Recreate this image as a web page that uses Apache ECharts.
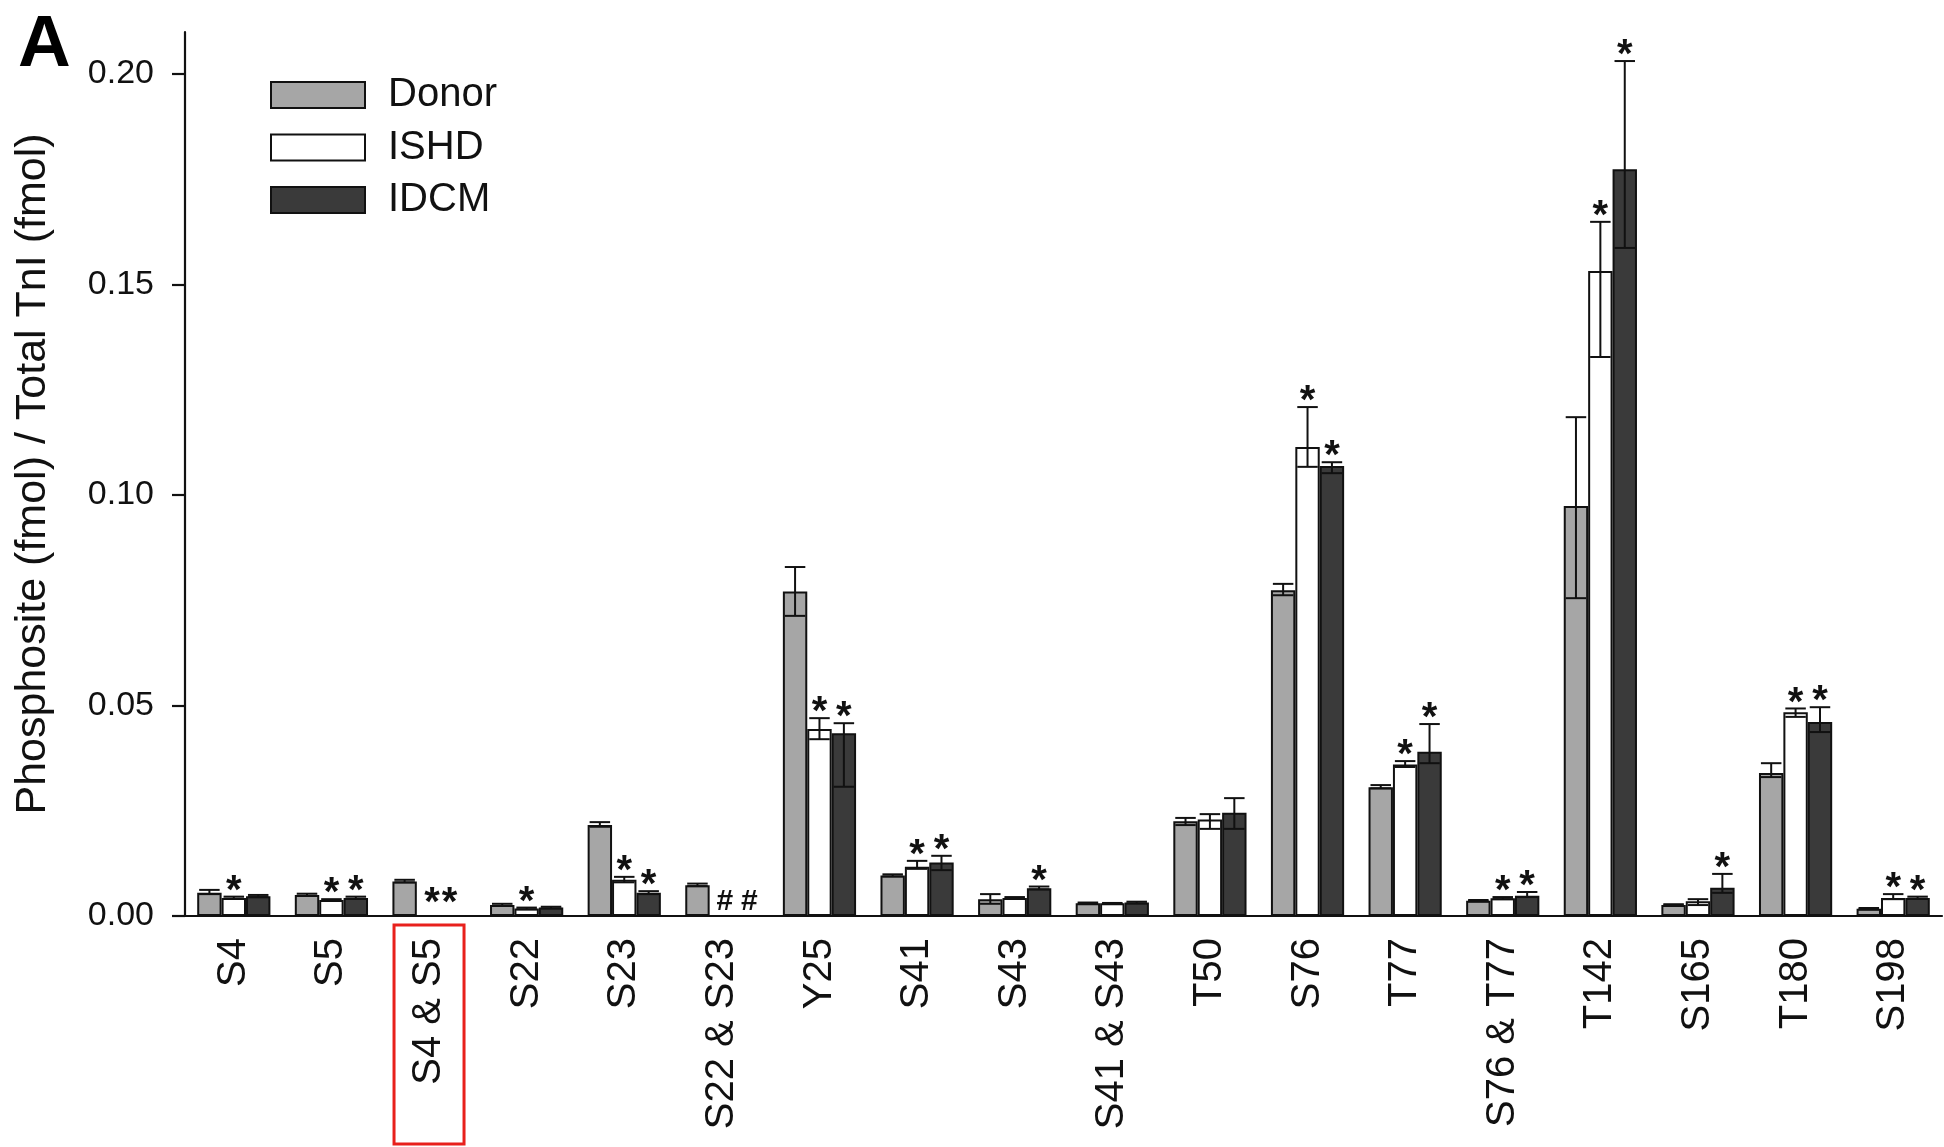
<!DOCTYPE html>
<html><head><meta charset="utf-8">
<script src="https://cdn.jsdelivr.net/npm/echarts@6/dist/echarts.min.js"></script>
<style>html,body{margin:0;padding:0;background:#fff}#c{width:1944px;height:1147px}</style>
</head><body><div id="c"></div>
<script>
const categories = ['S4','S5','S4 & S5','S22','S23','S22 & S23','Y25','S41','S43','S41 & S43','T50','S76','T77','S76 & T77','T142','S165','T180','S198'];
const seriesNames = ['Donor','ISHD','IDCM'];
const yTicks = [0, 0.05, 0.10, 0.15, 0.20];

const donor     = [0.0055,0.0050,0.0082,0.0026,0.0216,0.0073,0.0771,0.0096,0.0040,0.0030,0.0225,0.0774,0.0306,0.0036,0.0974,0.0026,0.0340,0.0017];
const ishd      = [0.0043,0.0038,0,     0.0018,0.0086,0,     0.0444,0.0117,0.0043,0.0030,0.0229,0.1114,0.0360,0.0042,0.1532,0.0035,0.0484,0.0043];
const idcm      = [0.0047,0.0043,0,     0.0020,0.0055,0,     0.0434,0.0127,0.0066,0.0032,0.0245,0.1069,0.0390,0.0048,0.1774,0.0067,0.0461,0.0043];

const donorErrUp   = [0.0007,0.0003,0.0004,0.0003,0.0007,0.0004,0.0058,0.0003,0.0012,0.0002,0.0008,0.0015,0.0005,0.0002,0.0211,0.0002,0.0023,0.0002];
const donorErrDown = [0.0003,0.0002,0.0002,0.0002,0.0004,0.0002,0.0058,0.0002,0.0011,0.0001,0.0009,0.0012,0.0003,0.0001,0.0219,0.0001,0.0010,0.0001];
const ishdErrUp    = [0.0003,0.0002,0,     0.0002,0.0007,0,     0.0026,0.0014,0.0002,0.0001,0.0013,0.0095,0.0008,0.0003,0.0117,0.0005,0.0009,0.0009];
const ishdErrDown  = [0.0002,0.0002,0,     0.0002,0.0006,0,     0.0024,0.0005,0.0002,0.0001,0.0022,0.0047,0.0006,0.0002,0.0204,0.0009,0.0011,0.0003];
const idcmErrUp    = [0.0003,0.0003,0,     0.0002,0.0004,0,     0.0024,0.0016,0.0004,0.0002,0.0035,0.0009,0.0066,0.0009,0.0257,0.0033,0.0035,0.0003];
const idcmErrDown  = [0.0002,0.0002,0,     0.0002,0.0003,0,     0.0127,0.0018,0.0003,0.0002,0.0038,0.0017,0.0027,0.0003,0.0187,0.0012,0.0024,0.0002];

const donorNotes = ['','','','','','','','','','','','','','','','','',''];
const ishdNotes  = ['*','*','*','*','*','#','*','*','','','','*','*','*','*','','*','*'];
const idcmNotes  = ['','*','*','','*','#','*','*','*','','','*','*','*','*','*','*','*'];

const highlightCategory = 'S4 & S5';

const FONT = '"Liberation Sans", Arial, Helvetica, sans-serif';
const INK = '#111';

function makeErrRender(k, notes) {
  return function (params, api) {
    const i = api.value(0), v = api.value(1), up = api.value(2), dn = api.value(3);
    const band = api.size([1, 0])[0];
    const barW = band * 0.75 / 3;
    const cx = api.coord([i, 0])[0] + (k - 1) * barW;
    const yTop = api.coord([i, v + up])[1];
    const yBot = api.coord([i, v - dn])[1];
    const capHalf = barW * 0.42;
    const children = [];
    if (up > 0 || dn > 0) {
      const st = { stroke: INK, lineWidth: 2 };
      children.push({ type: 'line', shape: { x1: cx, y1: yTop, x2: cx, y2: yBot }, style: st });
      children.push({ type: 'line', shape: { x1: cx - capHalf, y1: yTop, x2: cx + capHalf, y2: yTop }, style: st });
      children.push({ type: 'line', shape: { x1: cx - capHalf, y1: yBot, x2: cx + capHalf, y2: yBot }, style: st });
    }
    const note = notes[params.dataIndex];
    if (note) {
      const isHash = note === '#';
      const onZero = v === 0;
      // pairs of stars on empty bars sit close together, as in the figure
      const shift = isHash ? 3 : (onZero ? (k === 1 ? 3 : -4) : 0);
      children.push({
        type: 'text', x: cx + shift, y: isHash ? yTop - 14 : (onZero ? yTop - 12 : yTop - 5),
        style: { text: note, fill: INK, fontFamily: FONT, fontSize: isHash ? 30 : 40,
                 fontWeight: 'bold', align: 'center', verticalAlign: 'middle' }
      });
    }
    return { type: 'group', children };
  };
}

function errData(vals, up, dn) {
  return categories.map((c, i) => [i, vals[i], up[i], dn[i]]);
}

const chart = echarts.init(document.getElementById('c'), null, { renderer: 'canvas' });
const barStyle = (color) => ({ color, borderColor: INK, borderWidth: 2 });

const titleGraphic = { type: 'text', left: 18, top: 9, style: { text: 'A', fontFamily: FONT, fontWeight: 'bold', fontSize: 73, fill: '#000' } };

chart.setOption({
  animation: false,
  backgroundColor: '#fff',
  textStyle: { fontFamily: FONT },
  grid: { left: 185, right: 2, top: 32, bottom: 231, containLabel: false },
  legend: {
    data: seriesNames, orient: 'vertical', left: 270, top: 75,
    itemWidth: 94, itemHeight: 26, itemGap: 12.5, padding: 0,
    icon: 'rect',
    textStyle: { fontSize: 40, color: INK, fontFamily: FONT, lineHeight: 40, padding: [0, 0, 0, 18] }
  },
  xAxis: {
    type: 'category', data: categories,
    axisLine: { lineStyle: { color: INK, width: 2.2 } },
    axisTick: { show: false },
    axisLabel: { interval: 0, rotate: 90, fontSize: 40, color: INK, margin: 22, fontFamily: FONT },
    splitLine: { show: false }
  },
  yAxis: {
    type: 'value', min: 0, max: 0.21, interval: 0.05,
    name: 'Phosphosite (fmol) / Total TnI (fmol)',
    nameLocation: 'middle', nameGap: 130,
    nameTextStyle: { fontSize: 43, color: INK, fontFamily: FONT },
    axisLine: { show: true, lineStyle: { color: INK, width: 2.2 } },
    axisTick: { show: true, length: 13, lineStyle: { color: INK, width: 2.2 }, customValues: yTicks },
    axisLabel: { fontSize: 34, color: INK, margin: 31, fontFamily: FONT, customValues: yTicks,
                 formatter: (v) => v.toFixed(2) },
    splitLine: { show: false }
  },
  series: [
    { name: 'Donor', type: 'bar', data: donor, itemStyle: barStyle('#a6a6a6'), barGap: '0%', barCategoryGap: '25%' },
    { name: 'ISHD', type: 'bar', data: ishd, itemStyle: barStyle('#ffffff'), barGap: '0%', barCategoryGap: '25%' },
    { name: 'IDCM', type: 'bar', data: idcm, itemStyle: barStyle('#3a3a3a'), barGap: '0%', barCategoryGap: '25%' },
    { name: 'Donor err', type: 'custom', renderItem: makeErrRender(0, donorNotes), data: errData(donor, donorErrUp, donorErrDown), z: 5, silent: true },
    { name: 'ISHD err', type: 'custom', renderItem: makeErrRender(1, ishdNotes), data: errData(ishd, ishdErrUp, ishdErrDown), z: 5, silent: true },
    { name: 'IDCM err', type: 'custom', renderItem: makeErrRender(2, idcmNotes), data: errData(idcm, idcmErrUp, idcmErrDown), z: 5, silent: true }
  ],
  graphic: [titleGraphic]
});

// red highlight box around one category label, positioned from the axis scale
const p = chart.convertToPixel({ xAxisIndex: 0, yAxisIndex: 0 }, [highlightCategory, 0]);
chart.setOption({
  graphic: [
    titleGraphic,
    { type: 'rect', shape: { x: p[0] - 35, y: p[1] + 9, width: 70, height: 219 },
      style: { fill: 'none', stroke: '#e8201c', lineWidth: 3 }, z: 10 }
  ]
});
</script></body></html>
